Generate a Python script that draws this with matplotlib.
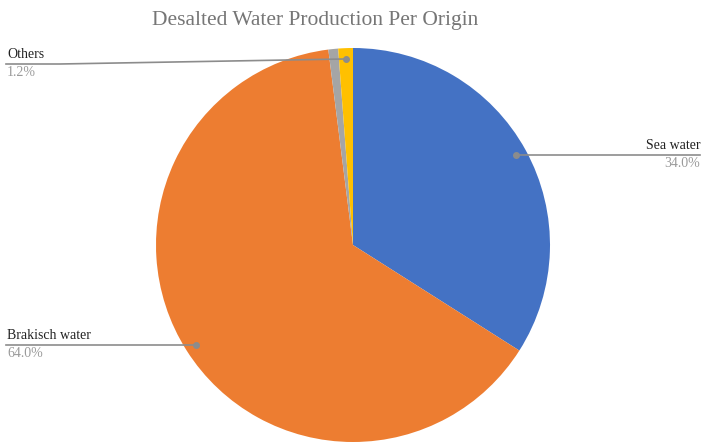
import numpy as np
import matplotlib.pyplot as plt

# Datos del gráfico
origenes = ['Sea water', 'Brakisch water', '', 'Others']
porcentajes = [34.0, 64.0, 0.8, 1.2]
colores = ['#4472C4', '#ED7D31', '#A5A5A5', '#FFC000']
titulo = 'Desalted Water Production Per Origin'

W, H = 702, 442
fig = plt.figure(figsize=(W / 100, H / 100), dpi=100)
ax = fig.add_axes([0, 0, 1, 1])
ax.set_xlim(0, W)
ax.set_ylim(0, H)
ax.set_aspect('equal')
ax.axis('off')

cx, cy, r = 353, H - 245, 197
ax.pie(porcentajes, colors=colores, startangle=90, counterclock=False,
       center=(cx, cy), radius=r, frame=True,
       wedgeprops=dict(linewidth=0))
ax.set_xlim(0, W)
ax.set_ylim(0, H)
ax.axis('off')

plt.rcParams['font.family'] = 'Liberation Serif'
fig.text(315 / W, 1 - 20 / H, titulo, ha='center', va='center',
         fontsize=15.5, color='#767676', family='Liberation Serif')

# Posición de los puntos: punto medio de cada porción al 95% del radio
acum = np.cumsum([0] + porcentajes)
medios = (acum[:-1] + acum[1:]) / 2
ang = np.deg2rad(90 - medios * 3.6)
px = cx + 0.945 * r * np.cos(ang)
py = cy + 0.945 * r * np.sin(ang)

gris = '#8c8c8c'
fs = 10
# Sea water (derecha)
i = 0
ax.plot([px[i], 700], [py[i], py[i]], color=gris, lw=1.2)
ax.plot(px[i], py[i], 'o', color=gris, ms=4)
ax.text(700, py[i] + 3, origenes[i], ha='right', va='bottom', fontsize=fs,
        color='#222222', family='Liberation Serif')
ax.text(700, py[i] - 2, f'{porcentajes[i]:.1f}%', ha='right', va='top',
        fontsize=fs, color='#9a9a9a', family='Liberation Serif')

# Brakisch water (izquierda)
i = 1
ax.plot([6, px[i]], [py[i], py[i]], color=gris, lw=1.2)
ax.plot(px[i], py[i], 'o', color=gris, ms=4)
ax.text(7, py[i] + 3, origenes[i], ha='left', va='bottom', fontsize=fs,
        color='#222222', family='Liberation Serif')
ax.text(7, py[i] - 2, f'{porcentajes[i]:.1f}%', ha='left', va='top',
        fontsize=fs, color='#9a9a9a', family='Liberation Serif')

# Others (arriba izquierda)
i = 3
yl = H - 64
ax.plot([6, 60, px[i]], [yl, yl, py[i]], color=gris, lw=1.2)
ax.plot(px[i], py[i], 'o', color=gris, ms=4)
ax.text(7, yl + 3, origenes[i], ha='left', va='bottom', fontsize=fs,
        color='#222222', family='Liberation Serif')
ax.text(7, yl - 2, f'{porcentajes[i]:.1f}%', ha='left', va='top',
        fontsize=fs, color='#9a9a9a', family='Liberation Serif')

fig.savefig('out.png', dpi=100)
